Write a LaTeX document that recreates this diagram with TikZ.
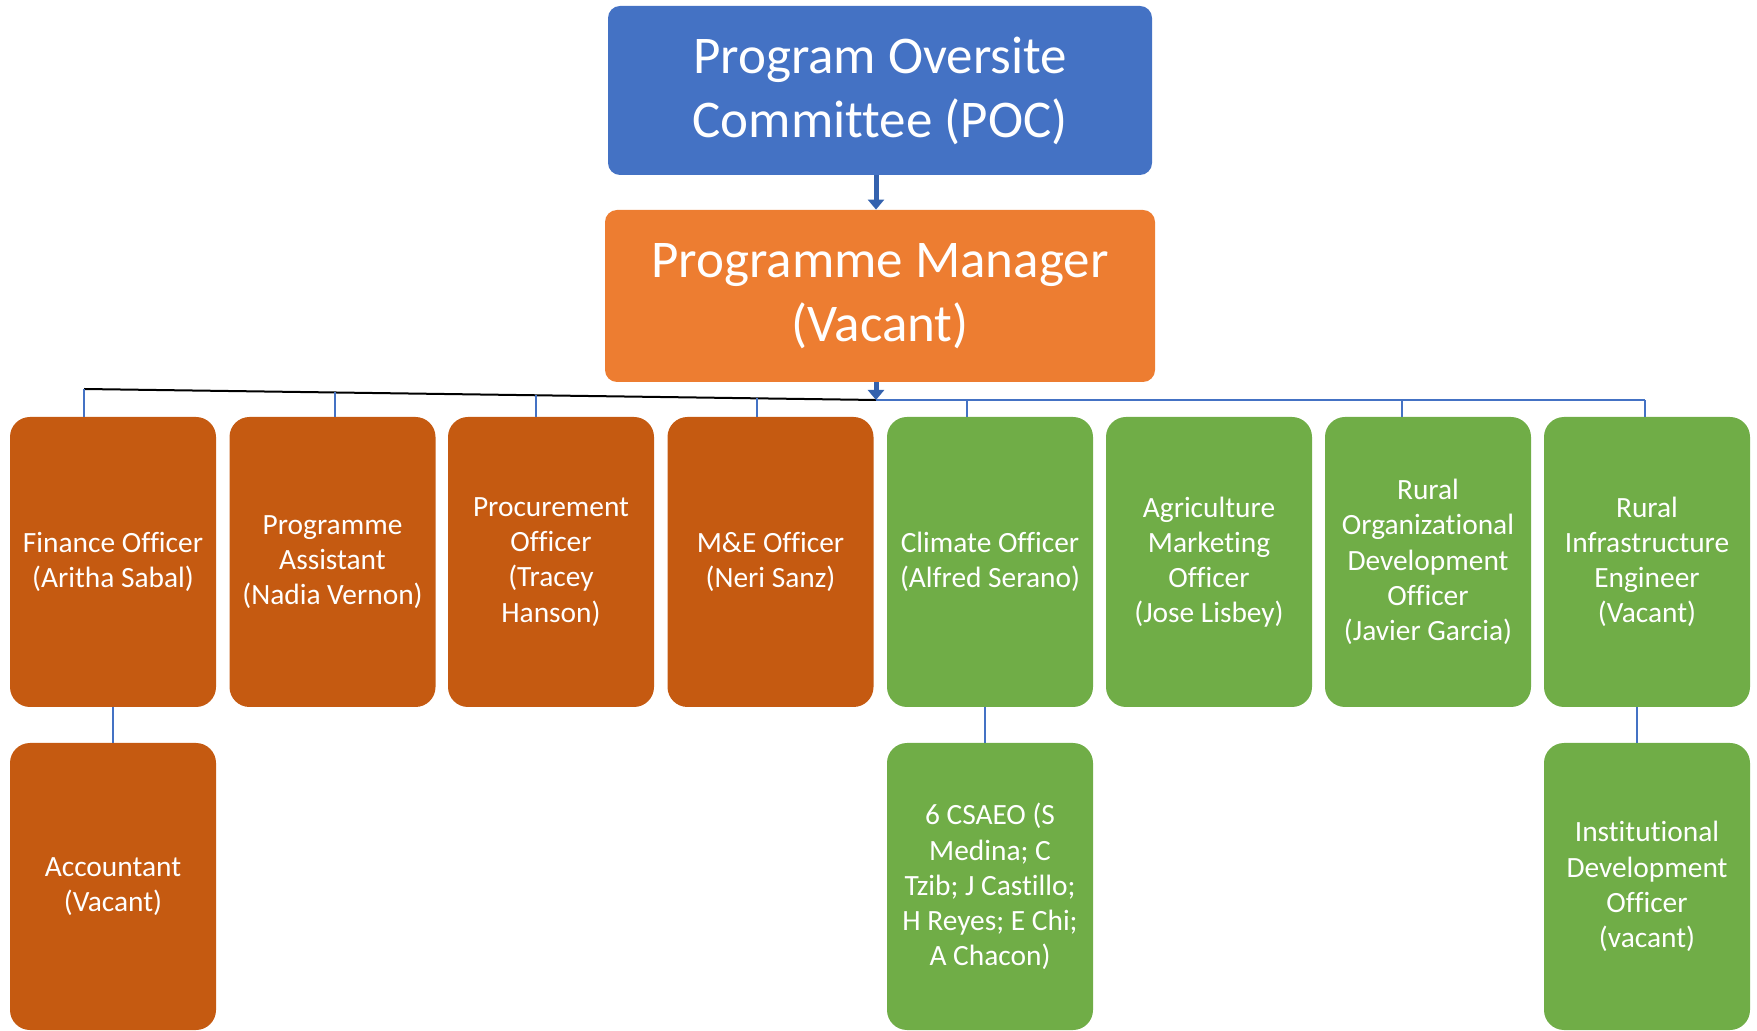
\documentclass[tikz,border=0pt]{standalone}
\usepackage{fontspec}
\setmainfont{Carlito}[RawFeature=-liga]
\usetikzlibrary{arrows.meta,positioning,calc}
\definecolor{pocblue}{HTML}{4472C4}
\definecolor{pmorange}{HTML}{ED7D31}
\definecolor{staffbrown}{HTML}{C55A11}
\definecolor{fieldgreen}{HTML}{70AD47}
\definecolor{arrowblue}{HTML}{3462AE}

\begin{document}
\begin{tikzpicture}[x=0.5pt,y=-0.5pt,
 head/.style={rounded corners=6pt,inner sep=0pt,align=center,text=white,font=\fontsize{26.5}{32}\selectfont},
 staff/.style={rounded corners=10pt,inner sep=0pt,align=center,text=white,font=\fontsize{14.7}{17.6}\selectfont,
   minimum width=103pt,minimum height=145pt,fill=staffbrown},
 field/.style={staff,fill=fieldgreen},
 sub/.style={minimum height=143.5pt},
 flow/.style={draw=arrowblue,line width=2.5pt,-{Triangle[width=8pt,length=5pt]}},
 tick/.style={draw=pocblue,line width=0.75pt}]
\useasboundingbox (0,0) rectangle (1757,1031);
\node[head,fill=pocblue,minimum width=272pt,minimum height=84.5pt] (poc) at (880,90.5) {Program Oversite\\Committee (POC)};
\node[head,fill=pmorange,minimum width=275pt,minimum height=86pt] (pm) at (880,296) {Programme Manager\\(Vacant)};
\node[staff] (fin) at (113,562) {Finance Officer\\(Aritha Sabal)};
\node[staff] (pa) at (332.5,562) {Programme\\Assistant\\(Nadia Vernon)};
\node[staff] (proc) at (551,562) {Procurement\\Officer\\(Tracey\\Hanson)};
\node[staff] (me) at (770.5,562) {M\&E Officer\\(Neri Sanz)};
\node[field] (clim) at (990,562) {Climate Officer\\(Alfred Serano)};
\node[field] (agri) at (1209,562) {Agriculture\\Marketing\\Officer\\(Jose Lisbey)};
\node[field] (rod) at (1428,562) {Rural\\Organizational\\Development\\Officer\\(Javier Garcia)};
\node[field] (rie) at (1647,562) {Rural\\Infrastructure\\Engineer\\(Vacant)};
\node[staff,sub] (acc) at (113,886.5) {Accountant\\(Vacant)};
\node[field,sub] (csaeo) at (990,886.5) {6 CSAEO (S\\Medina; C\\Tzib; J Castillo;\\H Reyes; E Chi;\\A Chacon)};
\node[field,sub] (ido) at (1647,886.5) {Institutional\\Development\\Officer\\(vacant)};
\coordinate (hub) at (876,400);
\coordinate (lend) at (84,389);
\coordinate (rend) at (1645,400);
\draw[flow] (poc.south -| hub) -- (pm.north -| hub);
\draw[black,line width=1pt] (lend) -- (hub);
\draw[tick] (hub) -- (rend);
\foreach \b/\x in {fin/84,pa/335,proc/536,me/757}{
  \coordinate (t\b) at ($(lend)!{(\x-84)/792}!(hub)$);
  \draw[tick] (t\b) -- (t\b |- \b.north);
}
\foreach \b/\x in {clim/967,rod/1402,rie/1645}{
  \coordinate (t\b) at (\x,400);
  \draw[tick] (t\b) -- (t\b |- \b.north);
}
\draw[flow] (pm.south -| hub) -- (hub);
\draw[tick] (fin) -- (acc);
\draw[tick] ([xshift=-2.5pt]clim.south) -- ([xshift=-2.5pt]csaeo.north);
\draw[tick] ([xshift=-5pt]rie.south) -- ([xshift=-5pt]ido.north);
\end{tikzpicture}
\end{document}
